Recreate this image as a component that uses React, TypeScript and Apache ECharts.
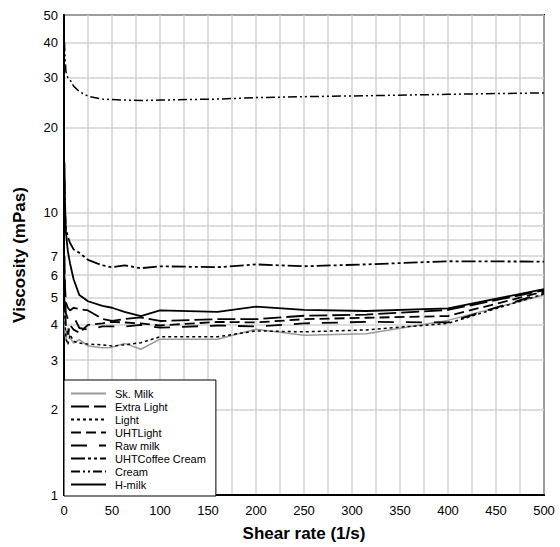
import React, { useEffect, useRef } from "react";
import * as echarts from "echarts";

// Shear rates (1/s) at which viscosity was measured
const shearRates = [0.5, 1, 2, 4, 6.3, 10, 16, 25, 40, 50, 63, 80, 100, 160, 200, 250, 315, 400, 500];

// Viscosity (mPas) per product
const skMilk = [4.5, 3.8, 3.5, 3.9, 3.6, 3.45, 3.55, 3.37, 3.32, 3.33, 3.44, 3.28, 3.56, 3.56, 3.86, 3.68, 3.72, 4.15, 5.1];
const extraLight = [7, 5.5, 4.8, 4.6, 4.5, 4.6, 4.55, 4.5, 4.2, 4.13, 4.2, 4.25, 4.13, 4.19, 4.19, 4.31, 4.35, 4.52, 5.3];
const light = [5, 4.2, 3.6, 3.4, 3.7, 3.5, 3.45, 3.42, 3.4, 3.37, 3.4, 3.46, 3.63, 3.63, 3.81, 3.78, 3.84, 4.05, 5.15];
const uhtLight = [5.5, 4.6, 4.0, 3.7, 4.0, 3.85, 3.75, 4.0, 4.05, 4.1, 4.08, 4.05, 3.98, 4.1, 4.08, 4.19, 4.24, 4.3, 5.25];
const rawMilk = [6, 5, 4.4, 4.2, 4.3, 4.3, 3.9, 3.85, 3.95, 3.95, 3.95, 4.0, 3.91, 3.98, 3.95, 4.05, 4.1, 4.08, 5.2];
const uhtCoffeeCream = [13, 10, 8.8, 8.2, 7.8, 7.4, 7.2, 6.8, 6.5, 6.4, 6.5, 6.35, 6.45, 6.4, 6.55, 6.45, 6.55, 6.72, 6.7];
const cream = [40, 36, 31.5, 30, 29.5, 28, 26.8, 25.8, 25.2, 25.1, 25.0, 24.9, 25.0, 25.2, 25.5, 25.7, 25.9, 26.2, 26.5];
const hMilk = [15, 11, 8.5, 7.3, 6.6, 5.8, 5.1, 4.85, 4.67, 4.6, 4.45, 4.3, 4.5, 4.45, 4.64, 4.52, 4.48, 4.58, 5.35];

const seriesNames = ["Sk. Milk", "Extra Light", "Light", "UHTLight", "Raw milk", "UHTCoffee Cream", "Cream", "H-milk"];
const seriesValues = [skMilk, extraLight, light, uhtLight, rawMilk, uhtCoffeeCream, cream, hMilk];

// Axis ticks
const yGridValues = [1, 2, 3, 4, 5, 6, 7, 8, 9, 10, 20, 30, 40, 50];
const yLabelValues = [1, 2, 3, 4, 5, 6, 7, 10, 20, 30, 40, 50];

const FONT = '"Liberation Sans", Arial, sans-serif';

const styles: { color: string; width: number; dash: any }[] = [
  { color: "#9a9a9a", width: 1.5, dash: "solid" },
  { color: "#000", width: 1.8, dash: [18, 5] },
  { color: "#000", width: 1.5, dash: [3, 3] },
  { color: "#000", width: 1.8, dash: [10, 5] },
  { color: "#000", width: 1.8, dash: [16, 12] },
  { color: "#000", width: 1.8, dash: [14, 3, 3, 3, 3, 3] },
  { color: "#000", width: 1.5, dash: [9, 3, 2, 3, 2, 3] },
  { color: "#000", width: 1.8, dash: "solid" },
];

export default function App() {
  const ref = useRef<HTMLDivElement>(null);
  useEffect(() => {
    if (!ref.current) return;
    const chart = echarts.init(ref.current, null, { renderer: "svg" });
    const gridLine = { lineStyle: { color: "#d2d2d2", width: 1.5 } };
    chart.setOption({
      animation: false,
      backgroundColor: "#fff",
      textStyle: { fontFamily: FONT },
      grid: {
        left: 64,
        top: 15,
        right: 16,
        bottom: 51,
        show: true,
        borderColor: "#000",
        borderWidth: 2,
        backgroundColor: "transparent",
        containLabel: false,
      },
      legend: {
        orient: "vertical",
        left: 64,
        top: 380,
        data: seriesNames,
        backgroundColor: "#fff",
        borderColor: "#000",
        borderWidth: 1,
        borderRadius: 0,
        padding: [7, 10, 5, 6],
        itemWidth: 35,
        itemHeight: 10,
        itemGap: 0,
        itemStyle: { opacity: 0, borderWidth: 0 },
        textStyle: { fontFamily: FONT, fontSize: 11, color: "#000", lineHeight: 13, padding: [0, 0, 0, 4] },
        z: 10,
      },
      xAxis: {
        type: "value",
        min: 0,
        max: 500,
        interval: 50,
        name: "Shear rate (1/s)",
        nameLocation: "middle",
        nameGap: 30,
        nameTextStyle: { fontFamily: FONT, fontSize: 17, fontWeight: "bold", color: "#000", verticalAlign: "top" },
        axisLine: { onZero: false, lineStyle: { color: "#000", width: 2 } },
        axisTick: { show: false },
        axisLabel: { color: "#000", fontSize: 13, margin: 9, fontFamily: FONT },
        splitLine: gridLine,
        minorTick: { show: false, splitNumber: 2 },
        minorSplitLine: { show: true, lineStyle: { color: "#d2d2d2", width: 1.5 } },
      },
      yAxis: {
        type: "log",
        logBase: 10,
        min: 1,
        max: 50,
        name: "Viscosity (mPas)",
        nameLocation: "middle",
        nameGap: 36,
        nameRotate: 90,
        nameTextStyle: { fontFamily: FONT, fontSize: 17, fontWeight: "bold", color: "#000" },
        axisLine: { lineStyle: { color: "#000", width: 2 } },
        axisTick: { show: false, customValues: yGridValues },
        axisLabel: {
          color: "#000",
          fontSize: 13,
          margin: 6,
          fontFamily: FONT,
          customValues: yLabelValues,
          formatter: (v: number) => String(Math.round(v)),
        },
        splitLine: gridLine,
      },
      series: seriesNames.map((name, i) => ({
        name,
        type: "line",
        symbol: "none",
        showSymbol: false,
        data: shearRates.map((x, j) => [x, seriesValues[i][j]]),
        itemStyle: { color: styles[i].color },
        lineStyle: { color: styles[i].color, width: styles[i].width, type: styles[i].dash },
        z: 3,
      })),
    });
    return () => chart.dispose();
  }, []);
  return <div ref={ref} style={{ position: "fixed", left: 0, top: 0, width: 560, height: 547 }} />;
}
